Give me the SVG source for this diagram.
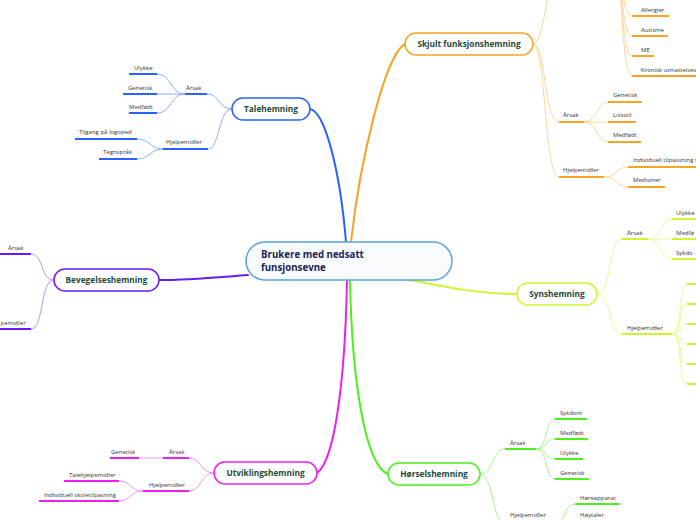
<svg xmlns="http://www.w3.org/2000/svg" width="696" height="520" viewBox="0 0 696 520">
<style>
.t{font-family:"Open Sans","Noto Sans",sans-serif;font-size:6px;fill:#333}
.h{font-family:"Open Sans","Noto Sans",sans-serif;font-size:8.3px;font-weight:bold;fill:#1e4a3a;text-anchor:middle}
.c{font-family:"Open Sans","Noto Sans",sans-serif;font-size:9.7px;font-weight:bold;fill:#1b2550}
.n{fill:#fff;stroke-width:1.5}
.u{fill:none;stroke-width:2}
.l{fill:none;stroke-width:1}
.m{fill:none;stroke-width:2;stroke-linecap:round}
.or{stroke:#f7a325}.orl{stroke:#fdd699}
.bl{stroke:#2962ff}.bll{stroke:#8aaeff}
.pu{stroke:#6a1bf5}.pul{stroke:#b892ff}
.ye{stroke:#cdf52e}.yel{stroke:#e6fa94}
.gr{stroke:#4cf01c}.grl{stroke:#a3f789}
.mg{stroke:#ee1eee}.mgl{stroke:#f590f5}
</style>
<g id="connectors">
<path class="m or" d="M351,242 C360,160 385,55 405,44"/>
<path class="m bl" d="M346,242 C340,170 325,112 310,109"/>
<path class="m pu" d="M248,275 C220,277 190,280 159,280"/>
<path class="m ye" d="M405,279 C450,288 480,294 517,294"/>
<path class="m mg" d="M347,281 C345,380 335,460 317,473"/>
<path class="m gr" d="M350,281 C352,380 365,465 388,474"/>
<path class="l orl" d="M533,44 C546,44 548,-40 560,-40"/>
<path class="l orl" d="M533,44 C546,44 544,122 559,122"/>
<path class="l orl" d="M533,44 C546,44 544,177 559,177"/>
<path class="l orl" d="M612,-40 C624,-40 620,16 632,16"/>
<path class="l orl" d="M612,-40 C624,-40 620,36 632,36"/>
<path class="l orl" d="M612,-40 C624,-40 620,56 632,56"/>
<path class="l orl" d="M612,-40 C624,-40 620,76 632,76"/>
<path class="l orl" d="M584,122 C598,122 596,102 608,102"/>
<path class="l orl" d="M584,122 L608,122"/>
<path class="l orl" d="M584,122 C598,122 596,142 608,142"/>
<path class="l orl" d="M604,177 C618,177 616,167 628,167"/>
<path class="l orl" d="M604,177 C618,177 616,187 628,187"/>
<path class="l bll" d="M232,109 C218,109 220,94 207,94"/>
<path class="l bll" d="M232,109 C218,109 220,149 208,149"/>
<path class="l bll" d="M185,94 C170,94 172,74 157,74"/>
<path class="l bll" d="M185,94 L157,94"/>
<path class="l bll" d="M185,94 C170,94 172,113 157,113"/>
<path class="l bll" d="M163,149 C150,149 150,139 137,139"/>
<path class="l bll" d="M163,149 C150,149 150,159 137,159"/>
<path class="l pul" d="M54,280 C40,280 44,254 31,254"/>
<path class="l pul" d="M54,280 C40,280 44,329 31,329"/>
<path class="l yel" d="M597,294 C612,294 608,239 622,239"/>
<path class="l yel" d="M597,294 C612,294 608,334 622,334"/>
<path class="l yel" d="M648,239 C662,239 660,219 672,219"/>
<path class="l yel" d="M648,239 L672,239"/>
<path class="l yel" d="M648,239 C662,239 660,259 672,259"/>
<path class="l yel" d="M672,334 C683,334 678,284 687,284"/>
<path class="l yel" d="M672,334 C683,334 678,304 687,304"/>
<path class="l yel" d="M672,334 C683,334 678,324 687,324"/>
<path class="l yel" d="M672,334 C683,334 678,344 687,344"/>
<path class="l yel" d="M672,334 C683,334 678,364 687,364"/>
<path class="l yel" d="M672,334 C683,334 678,384 687,384"/>
<path class="l grl" d="M480,474 C494,474 492,449 505,449"/>
<path class="l grl" d="M480,474 C494,474 492,524 505,524"/>
<path class="l grl" d="M536,449 C548,449 545,419 555,419"/>
<path class="l grl" d="M536,449 C548,449 545,439 555,439"/>
<path class="l grl" d="M536,449 C548,449 545,459 555,459"/>
<path class="l grl" d="M536,449 C548,449 545,479 555,479"/>
<path class="l grl" d="M555,524 C566,524 563,504 575,504"/>
<path class="l mgl" d="M214,473 C200,473 202,458 189,458"/>
<path class="l mgl" d="M214,473 C200,473 202,491 189,491"/>
<path class="l mgl" d="M163,458 L139,458"/>
<path class="l mgl" d="M143,491 C130,491 131,481 119,481"/>
<path class="l mgl" d="M143,491 C130,491 131,501 119,501"/>
</g>
<g id="center">
<rect x="246" y="242" width="206" height="38" rx="19" fill="#f7fbfe" stroke="#5aa2da" stroke-width="1.5"/>
<text class="c" x="261" y="258">Brukere med nedsatt</text>
<text class="c" x="261" y="271">funsjonsevne</text>
</g>
<g id="skjult">
<rect class="n or" x="405" y="33" width="128" height="22" rx="11"/>
<text class="h" x="469" y="47">Skjult funksjonshemning</text>
<path class="u or" d="M559,-40 H612"/>
<path class="u or" d="M632,16 H669"/><text class="t" x="641" y="12">Allergier</text>
<path class="u or" d="M632,36 H668"/><text class="t" x="641" y="32">Autisme</text>
<path class="u or" d="M632,56 H654"/><text class="t" x="641" y="52">ME</text>
<path class="u or" d="M632,76 H710"/><text class="t" x="641" y="72">Kronisk utmattelses</text>
<path class="u or" d="M559,122 H584"/><text class="t" x="563" y="117">Årsak</text>
<path class="u or" d="M608,102 H642"/><text class="t" x="613" y="97">Genetisk</text>
<path class="u or" d="M608,122 H636"/><text class="t" x="613" y="117">Livsstil</text>
<path class="u or" d="M608,142 H641"/><text class="t" x="613" y="137">Medfødt</text>
<path class="u or" d="M559,177 H604"/><text class="t" x="563" y="172">Hjelpemidler</text>
<path class="u or" d="M628,167 H720"/><text class="t" x="633" y="162">Individuell tilpassning f</text>
<path class="u or" d="M628,187 H665"/><text class="t" x="633" y="182">Medisiner</text>
</g>
<g id="tale">
<rect class="n bl" x="232" y="98" width="78" height="22" rx="11"/>
<text class="h" x="271" y="112">Talehemning</text>
<path class="u bl" d="M185,94 H207"/><text class="t" x="186" y="90">Årsak</text>
<path class="u bl" d="M129,74 H157"/><text class="t" x="134" y="70">Ulykke</text>
<path class="u bl" d="M123,94 H157"/><text class="t" x="128" y="90">Genetisk</text>
<path class="u bl" d="M129,113 H157"/><text class="t" x="129" y="109">Medfødt</text>
<path class="u bl" d="M163,149 H208"/><text class="t" x="166" y="144">Hjelpemidler</text>
<path class="u bl" d="M75,139 H137"/><text class="t" x="79" y="134">Tilgang på logoped</text>
<path class="u bl" d="M99,159 H137"/><text class="t" x="103" y="154">Tegnspråk</text>
</g>
<g id="bevegelse">
<rect class="n pu" x="54" y="269" width="105" height="22" rx="11"/>
<text class="h" x="106.5" y="283">Bevegelseshemning</text>
<path class="u pu" d="M-10,254 H31"/><text class="t" x="8" y="250">Årsak</text>
<path class="u pu" d="M-20,329 H31"/><text class="t" x="0.5" y="325">pemidler</text>
</g>
<g id="syns">
<rect class="n ye" x="517" y="283" width="80" height="22" rx="11"/>
<text class="h" x="557" y="297">Synshemning</text>
<path class="u ye" d="M622,239 H648"/><text class="t" x="627" y="235">Årsak</text>
<path class="u ye" d="M672,219 H710"/><text class="t" x="676" y="215">Ulykke</text>
<path class="u ye" d="M672,239 H710"/><text class="t" x="676" y="235">Medfø</text>
<path class="u ye" d="M672,259 H710"/><text class="t" x="676" y="255">Sykdo</text>
<path class="u ye" d="M622,334 H672"/><text class="t" x="627" y="330">Hjelpemidler</text>
<path class="u ye" d="M687,284 H710"/>
<path class="u ye" d="M687,304 H710"/>
<path class="u ye" d="M687,324 H710"/>
<path class="u ye" d="M687,344 H710"/>
<path class="u ye" d="M687,364 H710"/>
<path class="u ye" d="M687,384 H710"/>
</g>
<g id="horsel">
<rect class="n gr" x="388" y="463" width="92" height="22" rx="11"/>
<text class="h" x="434" y="477">Hørselshemning</text>
<path class="u gr" d="M505,449 H536"/><text class="t" x="510" y="445">Årsak</text>
<path class="u gr" d="M555,419 H587"/><text class="t" x="560" y="415">Sykdom</text>
<path class="u gr" d="M555,439 H588"/><text class="t" x="560" y="435">Medfødt</text>
<path class="u gr" d="M555,459 H583"/><text class="t" x="560" y="455">Ulykke</text>
<path class="u gr" d="M555,479 H589"/><text class="t" x="560" y="475">Genetisk</text>
<path class="u gr" d="M505,524 H555"/><text class="t" x="510" y="517">Hjelpemidler</text>
<path class="u gr" d="M575,504 H620"/><text class="t" x="580" y="500">Høreapparat</text>
<path class="u gr" d="M575,524 H613"/><text class="t" x="580" y="517">Høytaler</text>
</g>
<g id="utvikling">
<rect class="n mg" x="214" y="462" width="103" height="22" rx="11"/>
<text class="h" x="265.5" y="476">Utviklingshemning</text>
<path class="u mg" d="M163,458 H189"/><text class="t" x="169" y="454">Årsak</text>
<path class="u mg" d="M110,458 H139"/><text class="t" x="111" y="454">Genetisk</text>
<path class="u mg" d="M143,491 H189"/><text class="t" x="149" y="487">Hjelpemidler</text>
<path class="u mg" d="M64,481 H119"/><text class="t" x="69" y="477">Talehjelpemidler</text>
<path class="u mg" d="M39,501 H119"/><text class="t" x="44" y="497">Individuell skoletilpasning</text>
</g>
</svg>
